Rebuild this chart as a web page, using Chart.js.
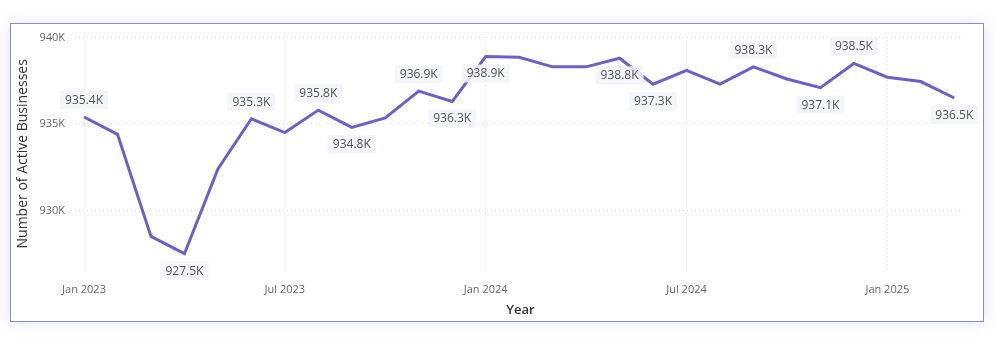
<!DOCTYPE html>
<html>
<head>
<meta charset="utf-8">
<script src="https://cdn.jsdelivr.net/npm/chart.js@4"></script>
<style>
  html, body { margin: 0; padding: 0; background: #ffffff; }
  #frame {
    position: absolute;
    left: 10px;
    top: 23px;
    width: 972px;
    height: 297px;
    border: 1.5px solid #8b8bc6;
    box-shadow: 0 0 14px rgba(130, 130, 230, 0.25);
    background: #fff;
  }
  #chart { display: block; position: relative; top: -4px; }
</style>
</head>
<body>
<div id="frame"><canvas id="chart" width="972" height="301"></canvas></div>
<script>
// 月（カテゴリ）
const months = [
  "Jan 2023", "Feb 2023", "Mar 2023", "Apr 2023", "May 2023", "Jun 2023",
  "Jul 2023", "Aug 2023", "Sep 2023", "Oct 2023", "Nov 2023", "Dec 2023",
  "Jan 2024", "Feb 2024", "Mar 2024", "Apr 2024", "May 2024", "Jun 2024",
  "Jul 2024", "Aug 2024", "Sep 2024", "Oct 2024", "Nov 2024", "Dec 2024",
  "Jan 2025", "Feb 2025", "Mar 2025",
];

// 事業者数（千）
const activeBusinesses = [
  935.4, 934.4, 928.5, 927.5, 932.4, 935.3,
  934.5, 935.8, 934.8, 935.35, 936.9, 936.3,
  938.9, 938.85, 938.3, 938.3, 938.8, 937.3,
  938.1, 937.3, 938.3, 937.6, 937.1, 938.5,
  937.7, 937.45, 936.5,
];

// 軸の目盛り
const xTickLabels = ["Jan 2023", "Jul 2023", "Jan 2024", "Jul 2024", "Jan 2025"];
const yTickValues = [930, 935, 940];

// ラベルを出す点（上 / 下）
const labelPlacement = {
  0: "above", 3: "below", 5: "above", 7: "above", 8: "below",
  10: "above", 11: "below", 12: "below", 16: "below", 17: "below",
  20: "above", 22: "below", 23: "above", 26: "below",
};

const fontFamily = "'Open Sans', 'Noto Sans', sans-serif";

// データラベル描画
const dataLabelPlugin = {
  id: "dataLabels",
  afterDatasetsDraw(chart) {
    const ctx = chart.ctx;
    const meta = chart.getDatasetMeta(0);
    ctx.save();
    ctx.font = "12px " + fontFamily;
    ctx.textAlign = "center";
    ctx.textBaseline = "middle";
    Object.keys(labelPlacement).forEach((k) => {
      const i = Number(k);
      const pt = meta.data[i];
      const text = activeBusinesses[i].toFixed(1) + "K";
      const dy = labelPlacement[k] === "above" ? -17 : 17;
      const w = ctx.measureText(text).width + 10;
      const h = 18;
      const cx = pt.x;
      const cy = pt.y + dy;
      ctx.fillStyle = "rgba(242, 242, 250, 0.85)";
      ctx.fillRect(cx - w / 2, cy - h / 2, w, h);
      ctx.fillStyle = "#555555";
      ctx.fillText(text, cx, cy + 0.5);
    });
    ctx.restore();
  },
};

new Chart(document.getElementById("chart"), {
  type: "line",
  data: {
    datasets: [
      {
        label: "Number of Active Businesses",
        data: activeBusinesses.map((v, i) => ({ x: i, y: v })),
        borderColor: "#6c5fc7",
        borderWidth: 3,
        pointRadius: 0,
        tension: 0,
      },
    ],
  },
  options: {
    responsive: false,
    animation: false,
    layout: { padding: { left: 0, right: 17, top: 8, bottom: 2 } },
    plugins: {
      legend: { display: false },
      tooltip: { enabled: false },
    },
    scales: {
      x: {
        type: "linear",
        min: -0.27,
        max: 26.35,
        afterBuildTicks: (s) => {
          s.ticks = [0, 6, 12, 18, 24].map((v) => ({ value: v }));
        },
        afterFit: (s) => {
          s.height = 48;
        },
        ticks: {
          autoSkip: false,
          maxRotation: 0,
          padding: 12,
          color: "#666666",
          font: { family: fontFamily, size: 11 },
          callback: (v) => xTickLabels[v / 6],
        },
        grid: {
          color: "#dddddd",
          lineWidth: 1,
          drawTicks: false,
        },
        border: { display: false, dash: [1, 3] },
        title: {
          display: true,
          text: "Year",
          color: "#333333",
          padding: { top: 2, bottom: 1 },
          font: { family: fontFamily, size: 13, weight: "600" },
        },
      },
      y: {
        min: 926.5,
        max: 940.05,
        afterBuildTicks: (s) => {
          s.ticks = yTickValues.map((v) => ({ value: v }));
        },
        afterFit: (s) => {
          s.width = 64;
        },
        ticks: {
          padding: 10,
          color: "#666666",
          font: { family: fontFamily, size: 11 },
          callback: (v) => v + "K",
        },
        grid: {
          color: "#dddddd",
          lineWidth: 1,
          drawTicks: false,
        },
        border: { display: false, dash: [1, 3] },
        title: {
          display: true,
          text: "Number of Active Businesses",
          color: "#333333",
          padding: { top: 4, bottom: 4 },
          font: { family: fontFamily, size: 14 },
        },
      },
    },
  },
  plugins: [dataLabelPlugin],
});
</script>
</body>
</html>
